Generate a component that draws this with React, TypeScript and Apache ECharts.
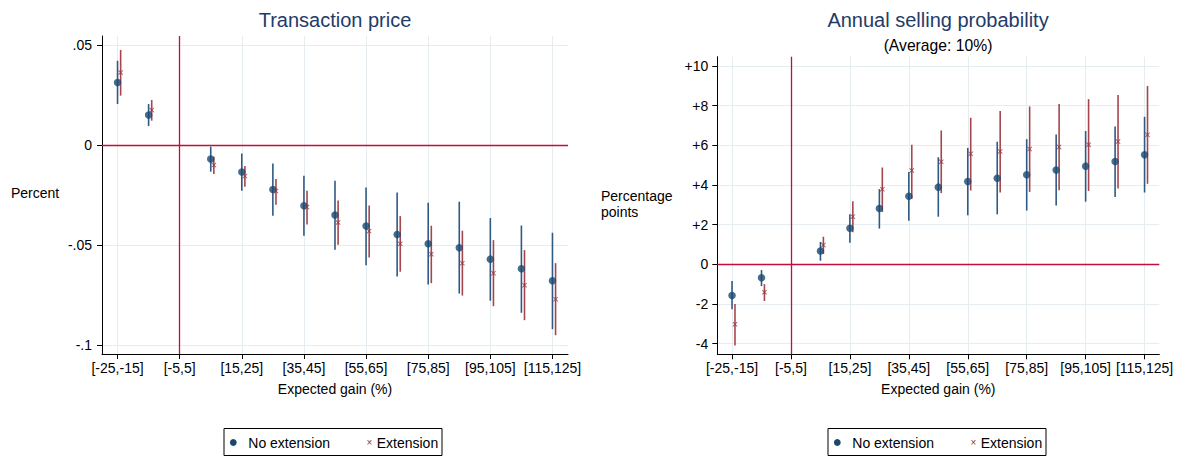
import React, { useEffect, useRef } from "react";
import * as echarts from "echarts";

// ---------- data ----------
const binCenters = [-20, -10, 10, 20, 30, 40, 50, 60, 70, 80, 90, 100, 110, 120];
const extOffset = 1; // dodge of the "Extension" estimates
const xTickValues = [-20, 0, 20, 40, 60, 80, 100, 120];
const xTickLabels = ["[-25,-15]", "[-5,5]", "[15,25]", "[35,45]", "[55,65]", "[75,85]", "[95,105]", "[115,125]"];

const priceTicks = [-0.1, -0.05, 0, 0.05];
const priceTickLabels = ["-.1", "-.05", "0", ".05"];
const probTicks = [-4, -2, 0, 2, 4, 6, 8, 10];
const probTickLabels = ["-4", "-2", "0", "+2", "+4", "+6", "+8", "+10"];

// Transaction price
const priceNoExt = [0.0313, 0.015, -0.007, -0.0135, -0.0222, -0.0303, -0.035, -0.0405, -0.0447, -0.0493, -0.0513, -0.057, -0.0618, -0.0678];
const priceNoExtLo = [0.0205, 0.0095, -0.0133, -0.0228, -0.0353, -0.0453, -0.0523, -0.06, -0.0657, -0.0697, -0.0742, -0.0778, -0.0838, -0.092];
const priceNoExtHi = [0.0421, 0.0205, -0.0008, -0.0042, -0.0092, -0.0153, -0.0178, -0.0212, -0.0237, -0.0288, -0.0283, -0.0365, -0.0402, -0.0438];
const priceExt = [0.0362, 0.0175, -0.01, -0.0155, -0.023, -0.031, -0.0387, -0.043, -0.0493, -0.0545, -0.059, -0.064, -0.07, -0.077];
const priceExtLo = [0.0247, 0.0122, -0.0145, -0.0208, -0.0298, -0.0397, -0.0498, -0.0562, -0.0633, -0.069, -0.0752, -0.0805, -0.0875, -0.095];
const priceExtHi = [0.0475, 0.0225, -0.0058, -0.0105, -0.017, -0.0228, -0.0277, -0.0302, -0.0355, -0.0403, -0.0428, -0.0475, -0.0525, -0.059];

// Annual selling probability
const probNoExt = [-1.57, -0.68, 0.67, 1.82, 2.81, 3.43, 3.89, 4.17, 4.34, 4.51, 4.75, 4.95, 5.18, 5.52];
const probNoExtLo = [-2.27, -1.1, 0.18, 1.08, 1.8, 2.2, 2.4, 2.47, 2.52, 2.71, 2.96, 3.16, 3.4, 3.62];
const probNoExtHi = [-0.84, -0.29, 1.13, 2.52, 3.79, 4.66, 5.4, 5.87, 6.18, 6.31, 6.55, 6.72, 6.95, 7.44];
const probExt = [-3.03, -1.41, 0.97, 2.4, 3.79, 4.73, 5.17, 5.57, 5.69, 5.81, 5.92, 6.03, 6.19, 6.53];
const probExtLo = [-4.09, -1.85, 0.52, 1.62, 2.64, 3.3, 3.59, 3.72, 3.62, 3.65, 3.74, 3.7, 3.82, 4.06];
const probExtHi = [-2.0, -1.0, 1.39, 3.18, 4.88, 6.03, 6.75, 7.39, 7.73, 7.96, 8.08, 8.33, 8.54, 8.99];

// ---------- style ----------
const FONT = "'Liberation Sans', Arial, Helvetica, sans-serif";
const NAVY = "#1a476f";
const MAROON = "#90353b";
const NAVY_CI = "#2f5a84";
const MAROON_CI = "#a5464e";
const REF = "#c40d3c";
const GRID = "#e6edf0";
const TITLE = "#243b68";
const X_SYMBOL = "path://M0,1.3L1.3,0L5,3.7L8.7,0L10,1.3L6.3,5L10,8.7L8.7,10L5,6.3L1.3,10L0,8.7L3.7,5Z";

function labelFor(values: number[], labels: string[]) {
  return (v: number) => {
    for (let i = 0; i < values.length; i++) {
      if (Math.abs(values[i] - v) < 1e-9) return labels[i];
    }
    return "";
  };
}

function ciSeries(idx: number, xs: number[], lo: number[], hi: number[], color: string) {
  return {
    type: "custom",
    xAxisIndex: idx,
    yAxisIndex: idx,
    silent: true,
    z: 3,
    data: xs.map((x, i) => [x, lo[i], hi[i]]),
    encode: { x: 0, y: [1, 2] },
    renderItem: (_p: any, api: any) => {
      const a = api.coord([api.value(0), api.value(1)]);
      const b = api.coord([api.value(0), api.value(2)]);
      return {
        type: "line",
        shape: { x1: a[0], y1: a[1], x2: b[0], y2: b[1] },
        style: { stroke: color, lineWidth: 1.6 },
      };
    },
  };
}

function panelSeries(idx: number, yTicks: number[], noExt: number[], noLo: number[], noHi: number[], ext: number[], exLo: number[], exHi: number[]) {
  const extX = binCenters.map((c) => c + extOffset);
  return [
    {
      type: "line",
      xAxisIndex: idx,
      yAxisIndex: idx,
      data: [],
      silent: true,
      z: 0,
      markLine: {
        z: 0,
        silent: true,
        symbol: ["none", "none"],
        label: { show: false },
        lineStyle: { color: GRID, width: 1, type: "solid" },
        data: [...xTickValues.map((v) => ({ xAxis: v })), ...yTicks.map((v) => ({ yAxis: v }))],
      },
    },
    {
      type: "line",
      xAxisIndex: idx,
      yAxisIndex: idx,
      data: [],
      silent: true,
      z: 1,
      markLine: {
        z: 1,
        silent: true,
        symbol: ["none", "none"],
        label: { show: false },
        lineStyle: { color: REF, width: 1.3, type: "solid" },
        data: [{ xAxis: 0 }, { yAxis: 0 }],
      },
    },
    ciSeries(idx, binCenters, noLo, noHi, NAVY_CI),
    {
      type: "scatter",
      name: "No extension",
      xAxisIndex: idx,
      yAxisIndex: idx,
      symbol: "circle",
      symbolSize: 7.5,
      itemStyle: { color: NAVY },
      z: 4,
      data: binCenters.map((x, i) => [x, noExt[i]]),
    },
    ciSeries(idx, extX, exLo, exHi, MAROON_CI),
    {
      type: "scatter",
      name: "Extension",
      xAxisIndex: idx,
      yAxisIndex: idx,
      symbol: X_SYMBOL,
      symbolSize: 5,
      itemStyle: { color: MAROON },
      z: 5,
      data: extX.map((x, i) => [x, ext[i]]),
    },
  ];
}

function xAxisFor(idx: number) {
  return {
    gridIndex: idx,
    type: "value",
    min: -25,
    max: 125,
    axisLine: { show: true, onZero: false, lineStyle: { color: "#000", width: 1 } },
    axisTick: { show: true, customValues: xTickValues, length: 5, lineStyle: { color: "#000", width: 1 } },
    axisLabel: {
      customValues: xTickValues,
      formatter: labelFor(xTickValues, xTickLabels),
      fontSize: 14,
      fontFamily: FONT,
      color: "#000",
      margin: 7,
    },
    splitLine: { show: false },
    name: "Expected gain (%)",
    nameLocation: "middle",
    nameGap: 27.5,
    nameTextStyle: { fontSize: 14, fontFamily: FONT, color: "#000" },
  };
}

function yAxisFor(idx: number, min: number, max: number, ticks: number[], labels: string[], margin: number) {
  return {
    gridIndex: idx,
    type: "value",
    min,
    max,
    axisLine: { show: true, onZero: false, lineStyle: { color: "#000", width: 1 } },
    axisTick: { show: true, customValues: ticks, length: 5, lineStyle: { color: "#000", width: 1 } },
    axisLabel: {
      customValues: ticks,
      formatter: labelFor(ticks, labels),
      fontSize: 14,
      fontFamily: FONT,
      color: "#000",
      margin,
    },
    splitLine: { show: false },
  };
}

function legendGraphics(left: number) {
  const cy = 442.5;
  const t = { fontSize: 14, fontFamily: FONT, fill: "#000", verticalAlign: "middle", align: "left" };
  return [
    { type: "rect", shape: { x: left, y: 428.5, width: 218, height: 27 }, style: { fill: "#fff", stroke: "#000", lineWidth: 1 } },
    { type: "circle", shape: { cx: left + 9.3, cy, r: 3.4 }, style: { fill: NAVY } },
    { type: "text", x: left + 24.3, y: cy, style: { ...t, text: "No extension" } },
    {
      type: "text",
      x: left + 145.3,
      y: cy,
      style: { ...t, text: "\u00d7", fontSize: 10, fill: MAROON, align: "center" },
    },
    { type: "text", x: left + 152.7, y: cy, style: { ...t, text: "Extension" } },
  ];
}

export default function App() {
  const ref = useRef<HTMLDivElement>(null);
  useEffect(() => {
    if (!ref.current) return;
    const chart = echarts.init(ref.current, undefined, { renderer: "svg" });
    const textBase = { fontFamily: FONT, fill: "#000", fontSize: 14 };
    chart.setOption({
      animation: false,
      backgroundColor: "#fff",
      grid: [
        { left: 102, top: 36, width: 466, height: 318, containLabel: false },
        { left: 717.3, top: 56.7, width: 442, height: 297.6, containLabel: false },
      ],
      xAxis: [xAxisFor(0), xAxisFor(1)],
      yAxis: [
        yAxisFor(0, -0.1044, 0.0545, priceTicks, priceTickLabels, 10),
        yAxisFor(1, -4.54, 10.47, probTicks, probTickLabels, 9),
      ],
      series: [
        ...panelSeries(0, priceTicks, priceNoExt, priceNoExtLo, priceNoExtHi, priceExt, priceExtLo, priceExtHi),
        ...panelSeries(1, probTicks, probNoExt, probNoExtLo, probNoExtHi, probExt, probExtLo, probExtHi),
      ],
      graphic: [
        { type: "text", x: 335, y: 20, style: { text: "Transaction price", fontSize: 20, fontFamily: FONT, fill: TITLE, align: "center", verticalAlign: "middle" } },
        { type: "text", x: 938, y: 20, style: { text: "Annual selling probability", fontSize: 20, fontFamily: FONT, fill: TITLE, align: "center", verticalAlign: "middle" } },
        { type: "text", x: 938, y: 45.5, style: { ...textBase, text: "(Average: 10%)", fontSize: 15.7, align: "center", verticalAlign: "middle" } },
        { type: "text", x: 11, y: 193, style: { ...textBase, text: "Percent", align: "left", verticalAlign: "middle" } },
        { type: "text", x: 601, y: 196, style: { ...textBase, text: "Percentage", align: "left", verticalAlign: "middle" } },
        { type: "text", x: 601, y: 211.5, style: { ...textBase, text: "points", align: "left", verticalAlign: "middle" } },
        ...legendGraphics(224),
        ...legendGraphics(828),
      ],
    });
    return () => chart.dispose();
  }, []);
  return <div ref={ref} style={{ position: "fixed", left: 0, top: 0, width: 1183, height: 457 }} />;
}
